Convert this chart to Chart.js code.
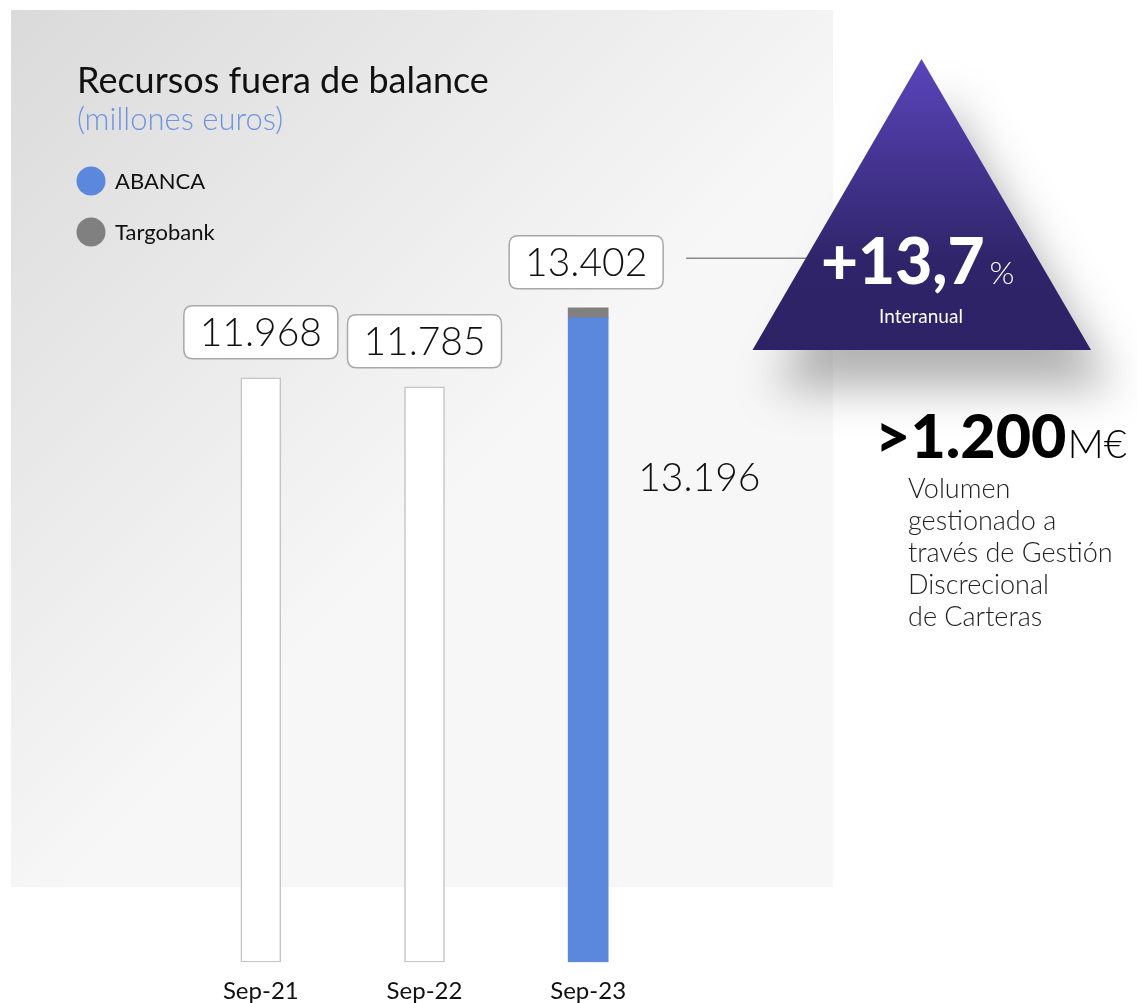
<!DOCTYPE html>
<html>
<head>
<meta charset="utf-8">
<script src="https://cdn.jsdelivr.net/npm/chart.js@4.4.1/dist/chart.umd.min.js"></script>
<style>
  html, body { margin: 0; padding: 0; background: #fff; }
  #wrap { width: 1137px; height: 1003px; position: relative; }
</style>
</head>
<body>
<div id="wrap"><canvas id="chart" width="1137" height="1003"></canvas></div>
<script>
// datos del gráfico
const categories = ["Sep-21", "Sep-22", "Sep-23"];
const totalPrev = [11968, 11785, null];   // barras blancas (total)
const abanca = [null, null, 13196];
const targobank = [null, null, 206];
const growthText = "+13,7";
const dgcText = ">1.200";
const dgcLines = ["Volumen", "gestionado a", "través de Gestión", "Discrecional", "de Carteras"];

const FONT = "Lato, 'Open Sans', sans-serif";

function fmt(n) {
  return n.toString().replace(/\B(?=(\d{3})+(?!\d))/g, ".");
}

function roundRect(ctx, x, y, w, h, r) {
  ctx.beginPath();
  ctx.moveTo(x + r, y);
  ctx.lineTo(x + w - r, y);
  ctx.quadraticCurveTo(x + w, y, x + w, y + r);
  ctx.lineTo(x + w, y + h - r);
  ctx.quadraticCurveTo(x + w, y + h, x + w - r, y + h);
  ctx.lineTo(x + r, y + h);
  ctx.quadraticCurveTo(x, y + h, x, y + h - r);
  ctx.lineTo(x, y + r);
  ctx.quadraticCurveTo(x, y, x + r, y);
  ctx.closePath();
}

// fondo gris y textos de cabecera
const backgroundPlugin = {
  id: "panel",
  beforeDraw(chart) {
    const ctx = chart.ctx;
    ctx.save();
    const g = ctx.createLinearGradient(10, 10, 480, 480);
    g.addColorStop(0, "#dadada");
    g.addColorStop(1, "#f7f7f7");
    ctx.fillStyle = g;
    ctx.fillRect(11, 10, 822, 877);

    ctx.fillStyle = "#111";
    ctx.font = `400 36px ${FONT}`;
    ctx.textBaseline = "alphabetic";
    ctx.fillText("Recursos fuera de balance", 77, 93);
    ctx.fillStyle = "#6f95e0";
    ctx.font = `300 31px ${FONT}`;
    ctx.fillText("(millones euros)", 77, 130);

    // leyenda
    const legendY = [181, 232];
    [chart.data.datasets[1], chart.data.datasets[2]].forEach((ds, i) => {
      ctx.fillStyle = ds.backgroundColor;
      ctx.beginPath();
      ctx.arc(91, legendY[i], 14.5, 0, Math.PI * 2);
      ctx.fill();
      ctx.fillStyle = "#111";
      ctx.font = `400 22px ${FONT}`;
      ctx.textBaseline = "middle";
      ctx.fillText(ds.label, 115, legendY[i] + 1);
    });
    ctx.restore();
  },
};

// etiquetas de valor con recuadro + triángulo
const labelsPlugin = {
  id: "valueBoxes",
  afterDatasetsDraw(chart) {
    const ctx = chart.ctx;
    const yScale = chart.scales.y;
    ctx.save();
    categories.forEach((c, i) => {
      let total = 0;
      let x = null;
      chart.data.datasets.forEach((ds, di) => {
        const v = ds.data[i];
        if (v != null) {
          total += v;
          x = chart.getDatasetMeta(di).data[i].x;
        }
      });
      const top = yScale.getPixelForValue(total);
      const w = 154, h = 53;
      const bx = x - w / 2 - (i === 2 ? 2 : 0);
      const by = top - 19 - h;
      roundRect(ctx, bx, by, w, h, 9);
      ctx.fillStyle = "#fff";
      ctx.fill();
      ctx.strokeStyle = "#a8a8a8";
      ctx.lineWidth = 1.5;
      ctx.stroke();
      ctx.fillStyle = "#111";
      ctx.font = `300 39px ${FONT}`;
      ctx.textAlign = "center";
      ctx.textBaseline = "middle";
      ctx.fillText(fmt(total), bx + w / 2, by + h / 2 + 1);

      if (i === 2) {
        // línea hacia el triángulo
        ctx.strokeStyle = "#8a8a8a";
        ctx.lineWidth = 1.5;
        ctx.beginPath();
        ctx.moveTo(bx + w + 23, by + h / 2 - 4);
        ctx.lineTo(812, by + h / 2 - 4);
        ctx.stroke();

        // valor ABANCA al lado de la barra
        const el = chart.getDatasetMeta(1).data[i];
        ctx.textAlign = "left";
        ctx.fillText(fmt(abanca[i]), el.x + el.width / 2 + 30, el.y + 161);
      }
    });

    // triángulo con sombra
    ctx.save();
    ctx.shadowColor = "rgba(0,0,0,0.3)";
    ctx.shadowBlur = 45;
    ctx.shadowOffsetX = 22;
    ctx.shadowOffsetY = 38;
    const tg = ctx.createLinearGradient(0, 59, 0, 350);
    tg.addColorStop(0, "#5a45bb");
    tg.addColorStop(0.7, "#2f2469");
    tg.addColorStop(1, "#2d2266");
    ctx.fillStyle = tg;
    ctx.beginPath();
    ctx.moveTo(921.5, 59);
    ctx.lineTo(1091, 350);
    ctx.lineTo(752.5, 350);
    ctx.closePath();
    ctx.fill();
    ctx.restore();

    ctx.fillStyle = "#fff";
    ctx.textBaseline = "alphabetic";
    ctx.textAlign = "left";
    ctx.font = `900 64px ${FONT}`;
    ctx.fillText(growthText, 821, 284);
    const gw = ctx.measureText(growthText).width;
    ctx.font = `300 32px ${FONT}`;
    ctx.fillText("%", 821 + gw + 5, 284);
    ctx.font = `400 19px ${FONT}`;
    ctx.textAlign = "center";
    ctx.fillText("Interanual", 921, 323);

    // bloque DGC
    ctx.textAlign = "left";
    ctx.fillStyle = "#000";
    ctx.font = `900 61px ${FONT}`;
    ctx.fillText(dgcText, 875, 458);
    const dw = ctx.measureText(dgcText).width;
    ctx.font = `300 40px ${FONT}`;
    ctx.fillText("M€", 875 + dw + 1, 458);
    ctx.fillStyle = "#222";
    ctx.font = `300 27px ${FONT}`;
    dgcLines.forEach((t, k) => {
      ctx.fillText(t, 908, 498 + k * 32);
    });
    ctx.restore();
  },
};

new Chart(document.getElementById("chart"), {
  type: "bar",
  data: {
    labels: categories,
    datasets: [
      {
        label: "Total",
        data: totalPrev,
        backgroundColor: "#ffffff",
        borderColor: "#c4c4c4",
        borderWidth: 1.5,
        borderSkipped: false,
      },
      {
        label: "ABANCA",
        data: abanca,
        backgroundColor: "#5b87dc",
        borderWidth: 0,
      },
      {
        label: "Targobank",
        data: targobank,
        backgroundColor: "#808080",
        borderWidth: 0,
      },
    ],
  },
  options: {
    responsive: false,
    animation: false,
    layout: { padding: { left: 179, right: 467, top: 10, bottom: -10 } },
    datasets: { bar: { barThickness: 40 } },
    plugins: {
      legend: { display: false },
      tooltip: { enabled: false },
    },
    scales: {
      x: {
        stacked: true,
        grid: { display: false },
        border: { display: false },
        ticks: {
          color: "#111",
          font: { family: FONT, size: 24, weight: "400" },
          padding: 7,
        },
      },
      y: {
        stacked: true,
        display: false,
        min: 0,
        max: 19500,
      },
    },
  },
  plugins: [backgroundPlugin, labelsPlugin],
});
</script>
</body>
</html>
